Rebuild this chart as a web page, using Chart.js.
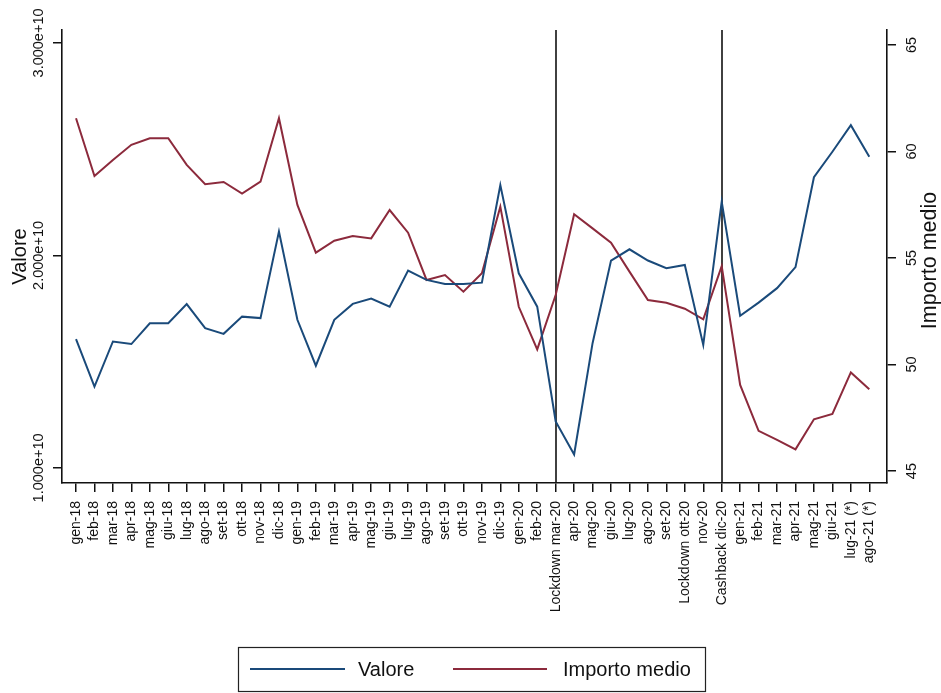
<!DOCTYPE html>
<html>
<head>
<meta charset="utf-8">
<script src="https://cdn.jsdelivr.net/npm/chart.js@4.4.0/dist/chart.umd.min.js"></script>
<style>
html,body{margin:0;padding:0;background:#fff;}
#wrap{width:941px;height:693px;position:relative;}
</style>
</head>
<body>
<div id="wrap"><canvas id="c" width="941" height="693"></canvas></div>
<script>
const categories = ['gen-18','feb-18','mar-18','apr-18','mag-18','giu-18','lug-18','ago-18','set-18','ott-18','nov-18','dic-18',
  'gen-19','feb-19','mar-19','apr-19','mag-19','giu-19','lug-19','ago-19','set-19','ott-19','nov-19','dic-19',
  'gen-20','feb-20','Lockdown mar-20','apr-20','mag-20','giu-20','lug-20','ago-20','set-20','Lockdown ott-20','nov-20','Cashback dic-20',
  'gen-21','feb-21','mar-21','apr-21','mag-21','giu-21','lug-21 (*)','ago-21 (*)'];

const valore = [1.606e10,1.383e10,1.595e10,1.583e10,1.681e10,1.681e10,1.771e10,1.658e10,1.631e10,1.712e10,1.705e10,2.112e10,
  1.697e10,1.481e10,1.697e10,1.772e10,1.797e10,1.759e10,1.929e10,1.885e10,1.866e10,1.866e10,1.872e10,2.331e10,
  1.916e10,1.759e10,1.219e10,1.063e10,1.587e10,1.976e10,2.029e10,1.976e10,1.940e10,1.955e10,1.579e10,2.253e10,
  1.716e10,1.778e10,1.846e10,1.945e10,2.368e10,2.488e10,2.613e10,2.464e10];

const importoMedio = [61.56,58.85,59.60,60.31,60.62,60.62,59.37,58.46,58.57,58.02,58.58,61.56,
  57.49,55.25,55.81,56.03,55.92,57.25,56.19,53.97,54.20,53.42,54.28,57.41,
  52.71,50.71,53.26,57.05,56.39,55.72,54.36,53.03,52.90,52.62,52.12,54.62,
  49.04,46.89,46.46,46.02,47.43,47.68,49.63,48.84];

const leftTickValues = [1e10, 2e10, 3e10];
const leftTickLabels = ['1.000e+10', '2.000e+10', '3.000e+10'];
const rightTickValues = [45, 50, 55, 60, 65];
const rightTickLabels = ['45', '50', '55', '60', '65'];
const eventCategories = ['Lockdown mar-20', 'Cashback dic-20'];
const seriesNames = ['Valore', 'Importo medio'];
const axisTitles = ['Valore', 'Importo medio'];

const FONT = '"Liberation Sans", Arial, Helvetica, sans-serif';
const BLUE = '#1a4a7a';
const RED = '#8c2a3c';

const overlay = {
  id: 'overlay',
  beforeDatasetsDraw(chart) {
    const ctx = chart.ctx, x = chart.scales.x, a = chart.chartArea;
    ctx.save();
    ctx.strokeStyle = '#111';
    ctx.lineWidth = 1.6;
    eventCategories.forEach(c => {
      const px = Math.round(x.getPixelForValue(categories.indexOf(c))) ;
      ctx.beginPath();
      ctx.moveTo(px, a.top);
      ctx.lineTo(px, a.bottom);
      ctx.stroke();
    });
    ctx.restore();
  },
  afterDraw(chart) {
    const ctx = chart.ctx, yl = chart.scales.y, yr = chart.scales.y1, a = chart.chartArea;
    ctx.save();
    ctx.fillStyle = '#111';
    ctx.textAlign = 'center';
    ctx.textBaseline = 'middle';
    ctx.font = '14.5px ' + FONT;
    leftTickValues.forEach((v, i) => {
      const py = yl.getPixelForValue(v);
      ctx.save(); ctx.translate(39, py); ctx.rotate(-Math.PI / 2);
      ctx.fillText(leftTickLabels[i], 0, 0); ctx.restore();
    });
    rightTickValues.forEach((v, i) => {
      const py = yr.getPixelForValue(v);
      ctx.save(); ctx.translate(912, py); ctx.rotate(-Math.PI / 2);
      ctx.fillText(rightTickLabels[i], 0, 0); ctx.restore();
    });
    ctx.font = '20px ' + FONT;
    ctx.save(); ctx.translate(20, (a.top + a.bottom) / 2); ctx.rotate(-Math.PI / 2);
    ctx.fillText(axisTitles[0], 0, 0); ctx.restore();
    ctx.font = '21.5px ' + FONT;
    ctx.save(); ctx.translate(930, (a.top + a.bottom) / 2 + 4); ctx.rotate(-Math.PI / 2);
    ctx.fillText(axisTitles[1], 0, 0); ctx.restore();
    // legend
    const bx = 238, by = 647, bw = 467, bh = 44;
    ctx.strokeStyle = '#222';
    ctx.lineWidth = 1.2;
    ctx.strokeRect(bx + 0.5, by + 0.5, bw, bh);
    const cy = by + bh / 2;
    const items = [
      {x0: 250, x1: 345, tx: 358},
      {x0: 453, x1: 547, tx: 563}
    ];
    ctx.textAlign = 'left';
    ctx.font = '20px ' + FONT;
    chart.data.datasets.forEach((ds, i) => {
      const it = items[i];
      ctx.strokeStyle = ds.borderColor;
      ctx.lineWidth = 2;
      ctx.beginPath(); ctx.moveTo(it.x0, cy); ctx.lineTo(it.x1, cy); ctx.stroke();
      ctx.fillStyle = '#111';
      ctx.fillText(ds.label, it.tx, cy + 1);
    });
    ctx.restore();
  }
};

const mk = arr => arr.map((v, i) => ({x: i, y: v}));

new Chart(document.getElementById('c'), {
  type: 'line',
  data: {
    datasets: [
      {label: seriesNames[0], data: mk(valore), yAxisID: 'y', borderColor: BLUE, borderWidth: 2, pointRadius: 0, tension: 0, fill: false},
      {label: seriesNames[1], data: mk(importoMedio), yAxisID: 'y1', borderColor: RED, borderWidth: 2, pointRadius: 0, tension: 0, fill: false}
    ]
  },
  options: {
    responsive: false,
    animation: false,
    devicePixelRatio: 1,
    layout: {padding: {left: 0, right: 0, top: 30, bottom: 0}},
    plugins: {legend: {display: false}, tooltip: {enabled: false}, title: {display: false}},
    scales: {
      x: {
        type: 'linear',
        min: -0.76, max: 43.96,
        afterBuildTicks: s => { s.ticks = categories.map((c, i) => ({value: i})); },
        afterFit: s => { s.height = 210; },
        ticks: {
          autoSkip: false, minRotation: 90, maxRotation: 90, padding: 9,
          color: '#111', font: {family: FONT, size: 14},
          callback: v => categories[v]
        },
        grid: {drawOnChartArea: false, drawTicks: true, tickLength: 9, color: '#111', lineWidth: 1.5},
        border: {display: true, color: '#111', width: 1.6}
      },
      y: {
        position: 'left',
        min: 0.929e10, max: 3.061e10,
        afterBuildTicks: s => { s.ticks = leftTickValues.map(v => ({value: v})); },
        afterFit: s => { s.width = 62; },
        ticks: {display: false},
        grid: {drawOnChartArea: false, drawTicks: true, tickLength: 9, color: '#111', lineWidth: 1.5},
        border: {display: true, color: '#111', width: 1.6}
      },
      y1: {
        position: 'right',
        min: 44.44, max: 65.7,
        afterBuildTicks: s => { s.ticks = rightTickValues.map(v => ({value: v})); },
        afterFit: s => { s.width = 54; },
        ticks: {display: false},
        grid: {drawOnChartArea: false, drawTicks: true, tickLength: 9, color: '#111', lineWidth: 1.5},
        border: {display: true, color: '#111', width: 1.6}
      }
    }
  },
  plugins: [overlay]
});
</script>
</body>
</html>
